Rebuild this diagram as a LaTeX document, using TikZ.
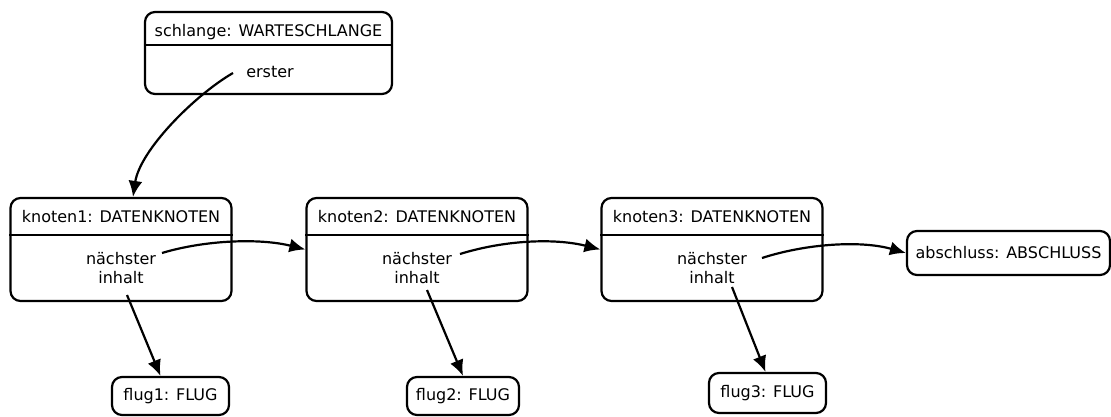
\documentclass[tikz,border=0pt]{standalone}
\usepackage{fontspec}
\setmainfont{DejaVu Sans}
\usetikzlibrary{arrows.meta,calc}
\begin{document}
\begin{tikzpicture}[x=1pt,y=-1pt,
  box/.style={draw,line width=2.2pt,rounded corners=10pt,inner sep=0pt},
  txt/.style={inner sep=0pt,font=\fontsize{16}{19}\selectfont,align=center},
  arr/.style={line width=2.2pt,-{Latex[length=16pt,width=14pt]}},
  div/.style={line width=2.2pt}]
\useasboundingbox (0,0) rectangle (1111,417);
% schlange
\node[box,minimum width=247pt,minimum height=82pt] (schlange) at (268.5,53) {};
\node[txt] (schlangeT) at (268.5,32) {schlange: WARTESCHLANGE};
\draw[div] (schlange.west |- 0,45) -- (schlange.east |- 0,45);
\node[txt] (erster) at (270,72) {erster};
% knoten
\foreach \i/\x in {1/121,2/417,3/712}{
  \node[box,minimum width=221pt,minimum height=103pt] (k\i) at (\x,249.5) {};
  \node[txt] (k\i T) at (\x,217) {knoten\i: DATENKNOTEN};
  \draw[div] (k\i.west |- 0,235) -- (k\i.east |- 0,235);
  \node[txt] (k\i a) at (\x,268) {nächster\\inhalt};
}
% end nodes
\node[box,minimum width=203pt,minimum height=44pt,txt] (abschluss) at (1008.5,253) {abschluss: ABSCHLUSS};
\node[box,minimum width=117pt,minimum height=38pt,txt] (flug1) at (170.5,396) {flug1: FLUG};
\node[box,minimum width=112pt,minimum height=38pt,txt] (flug2) at (463,396) {flug2: FLUG};
\node[box,minimum width=117pt,minimum height=40pt,txt] (flug3) at (767.5,393) {flug3: FLUG};
% connector start points
\coordinate (eS) at (233,73);
\coordinate (n1S) at (162,253);
\coordinate (n2S) at (460,254);
\coordinate (n3S) at (762,258);
\coordinate (i1S) at (127,295);
\coordinate (i2S) at (427,290);
\coordinate (i3S) at (732,287);
% connectors
\draw[arr] (eS) .. controls (195,95) and (140,150) .. ($(k1.north)+(12,0)$);
\draw[arr] (n1S) .. controls (205,240) and (260,238) .. (k2.west);
\draw[arr] (n2S) .. controls (505,240) and (555,238) .. (k3.west);
\draw[arr] (n3S) .. controls (805,244) and (860,240) .. (abschluss.west);
\draw[arr] (i1S) -- ($(flug1.north)+(-10,0)$);
\draw[arr] (i2S) -- (flug2.north);
\draw[arr] (i3S) -- ($(flug3.north)+(-2,0)$);
\end{tikzpicture}
\end{document}
